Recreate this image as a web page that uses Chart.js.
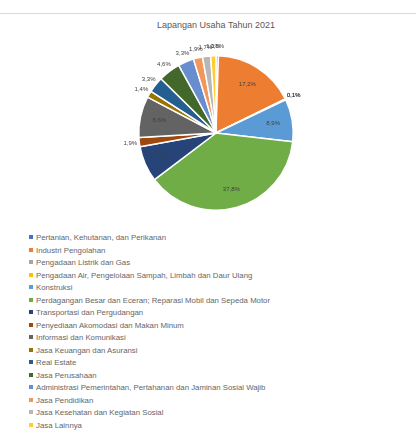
<!DOCTYPE html>
<html lang="id">
<head>
<meta charset="UTF-8">
<title>Lapangan Usaha Tahun 2021</title>
<script src="https://cdn.jsdelivr.net/npm/chart.js"></script>
<style>
    body { margin: 0; background: #fff; font-family: "Liberation Sans", Arial, sans-serif; }
    #wrap { position: relative; width: 416px; height: 430px; overflow: hidden; }
    #topline { position: absolute; left: 0; top: 13px; width: 416px; border-top: 1px solid #d9d9d9; }
    #title { position: absolute; left: 16px; width: 400px; top: 20px; text-align: center; font-size: 9px; color: #595959; }
    #chart { position: absolute; left: 0; top: 0; }
    #legend { position: absolute; left: 29px; top: 232px; margin: 0; padding: 0; list-style: none; }
    #legend li { font-size: 7.8px; line-height: 12.5px; color: #666666; white-space: nowrap; }
    #legend span { display: inline-block; width: 4px; height: 4px; margin-right: 3px; vertical-align: 1px; }
</style>
</head>
<body>
<div id="wrap">
    <div id="topline"></div>
    <div id="title">Lapangan Usaha Tahun 2021</div>
    <canvas id="chart" width="416" height="225"></canvas>
    <ul id="legend"></ul>
</div>

<script>
    const sectors = [
        'Pertanian, Kehutanan, dan Perikanan',
        'Industri Pengolahan',
        'Pengadaan Listrik dan Gas',
        'Pengadaan Air, Pengelolaan Sampah, Limbah dan Daur Ulang',
        'Konstruksi',
        'Perdagangan Besar dan Eceran; Reparasi Mobil dan Sepeda Motor',
        'Transportasi dan Pergudangan',
        'Penyediaan Akomodasi dan Makan Minum',
        'Informasi dan Komunikasi',
        'Jasa Keuangan dan Asuransi',
        'Real Estate',
        'Jasa Perusahaan',
        'Administrasi Pemerintahan, Pertahanan dan Jaminan Sosial Wajib',
        'Jasa Pendidikan',
        'Jasa Kesehatan dan Kegiatan Sosial',
        'Jasa Lainnya'
    ];
    const shares = [0.5, 17.2, 0.1, 0.1, 8.9, 37.8, 7.5, 1.9, 8.6, 1.4, 3.3, 4.6, 3.3, 1.9, 1.7, 1.1];
    const colors = ['#4472C4', '#ED7D31', '#A5A5A5', '#FFC000', '#5B9BD5', '#70AD47', '#264478', '#9E480E',
        '#636363', '#997300', '#255E91', '#43682B', '#698ED0', '#F1975A', '#B7B7B7', '#FFCD33'];

    // percent labels, inside for big slices, just outside for small ones
    const pctLabels = {
        id: 'pctLabels',
        afterDatasetsDraw(chart) {
            const ctx = chart.ctx;
            const meta = chart.getDatasetMeta(0);
            ctx.save();
            ctx.font = '6px "Liberation Sans", Arial, sans-serif';
            ctx.fillStyle = '#404040';
            ctx.textAlign = 'center';
            ctx.textBaseline = 'middle';
            meta.data.forEach((arc, i) => {
                const p = arc.getProps(['x', 'y', 'startAngle', 'endAngle', 'outerRadius'], true);
                const mid = (p.startAngle + p.endAngle) / 2;
                const r = shares[i] >= 5 ? p.outerRadius * 0.75 : p.outerRadius + 9;
                const text = shares[i].toFixed(1).replace('.', ',') + '%';
                ctx.fillText(text, p.x + Math.cos(mid) * r, p.y + Math.sin(mid) * r);
            });
            ctx.restore();
        }
    };

    new Chart(document.getElementById('chart'), {
        type: 'pie',
        data: {
            labels: sectors,
            datasets: [{
                data: shares,
                backgroundColor: colors,
                borderColor: '#ffffff',
                borderWidth: 1.5
            }]
        },
        options: {
            responsive: false,
            animation: false,
            devicePixelRatio: 1,
            layout: { padding: { top: 55, bottom: 14, left: 16, right: 0 } },
            plugins: {
                legend: { display: false },
                title: { display: false },
                tooltip: { enabled: false }
            }
        },
        plugins: [pctLabels]
    });

    const legend = document.getElementById('legend');
    sectors.forEach((name, i) => {
        const li = document.createElement('li');
        li.innerHTML = '<span style="background:' + colors[i] + '"></span>' + name;
        legend.appendChild(li);
    });
</script>
</body>
</html>
